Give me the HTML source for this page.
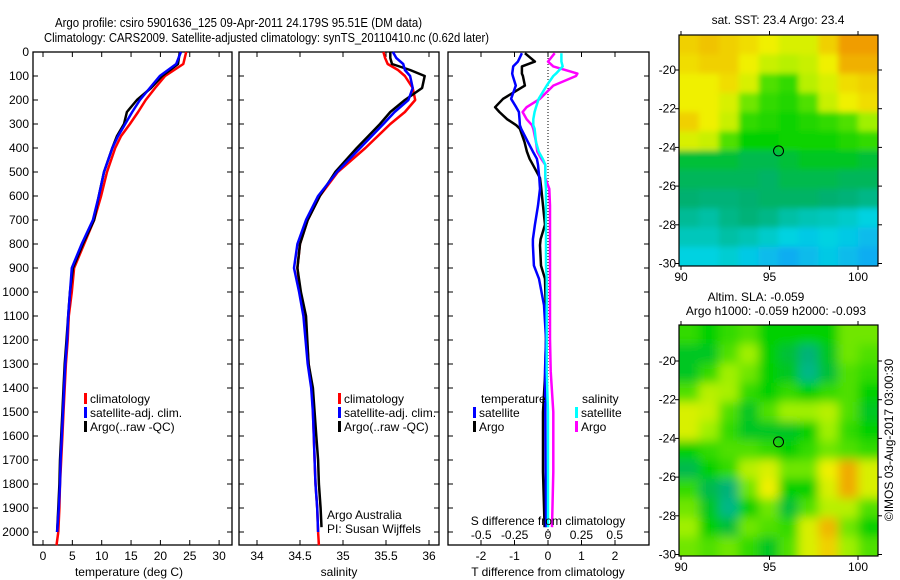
<!DOCTYPE html>
<html><head><meta charset="utf-8">
<style>
html,body{margin:0;padding:0;background:#fff;}
svg{display:block;font-family:"Liberation Sans",sans-serif;}
text{font-size:12px;fill:#000;}
</style></head>
<body>
<svg id="fig" width="900" height="580" viewBox="0 0 900 580" xmlns="http://www.w3.org/2000/svg">
<defs>
<filter id="blur" x="0" y="0" width="1" height="1"><feGaussianBlur stdDeviation="5"/></filter>
<filter id="blurLight" x="0" y="0" width="1" height="1"><feGaussianBlur stdDeviation="3"/></filter>
<clipPath id="clipTop"><rect x="679" y="35" width="199" height="231"/></clipPath>
<clipPath id="clipBot"><rect x="679" y="325" width="199" height="231"/></clipPath>
</defs>
<text x="55" y="27" textLength="367" lengthAdjust="spacingAndGlyphs" style="font-size:13px">Argo profile: csiro 5901636_125 09-Apr-2011 24.179S 95.51E (DM data)</text>
<text x="44" y="42" textLength="445" lengthAdjust="spacingAndGlyphs" style="font-size:13px">Climatology: CARS2009. Satellite-adjusted climatology: synTS_20110410.nc (0.62d later)</text>
<g id="g"></g>
</svg>
<script>
// ===== data =====
const tDepth = [0,50,100,150,200,250,300,350,400,500,600,700,800,900,1000,1100,1200,1300,1400,1500,1600,1700,1800,1900,2000];
const tClim = [24.4,23.9,20.8,19.1,17.5,16.2,14.8,13.3,12.3,10.9,9.9,8.7,7.0,5.3,4.9,4.4,4.2,3.9,3.7,3.5,3.3,3.1,2.9,2.8,2.6];
const tSat  = [23.5,22.7,19.9,18.2,16.5,15.2,14.0,12.8,11.8,10.4,9.5,8.5,6.6,4.9,4.6,4.3,4.1,3.8,3.6,3.4,3.2,3.0,2.9,2.7,2.4];
const tArgo = [23.3,23.0,20.3,18.4,16.0,14.3,13.8,12.6,11.8,10.4,9.5,8.7,6.8,5.1,4.6,4.3,4.0,3.7,3.5,3.3,3.1,2.9,2.8,2.6,2.4];
const sDepth = [0,25,50,75,100,150,200,250,300,400,500,600,700,800,900,1000,1100,1300,1400,1500,1600,1700,1800,1900,2000];
const sClim = [35.47,35.49,35.52,35.64,35.72,35.81,35.84,35.72,35.55,35.26,34.94,34.73,34.59,34.50,34.47,34.50,34.56,34.60,34.64,34.65,34.66,34.67,34.68,34.70,34.71];
const sSat  = [35.58,35.62,35.70,35.72,35.78,35.81,35.76,35.60,35.47,35.20,34.93,34.71,34.57,34.47,34.43,34.49,34.54,34.59,34.63,34.65,34.66,34.67,34.68,34.70,34.71];
const sArgo = [35.55,35.55,35.57,35.78,35.95,35.92,35.72,35.55,35.43,35.16,34.91,34.73,34.59,34.50,34.47,34.51,34.57,34.60,34.65,34.67,34.69,34.71,34.72,34.74,34.75];
const dDepth = [5,40,60,90,100,140,195,230,250,280,305,320,375,415,445,470,525,570,640,720,780,805,890,945,1055,1195,1330,1500,1750,1980];
const dTSat  = [-0.78,-0.9,-1.04,-1.07,-1.05,-0.96,-1.1,-0.95,-0.87,-0.85,-0.84,-0.8,-0.6,-0.45,-0.33,-0.3,-0.26,-0.24,-0.3,-0.39,-0.45,-0.45,-0.42,-0.27,-0.12,-0.06,-0.09,-0.08,-0.07,-0.06];
const dTArgo = [-0.69,-0.39,-0.78,-0.78,-0.75,-0.69,-1.34,-1.58,-1.45,-1.22,-0.95,-0.84,-0.7,-0.63,-0.55,-0.45,-0.24,-0.2,-0.15,-0.09,-0.22,-0.24,-0.21,-0.09,-0.07,-0.06,-0.08,-0.15,-0.15,-0.1];
const dSSat  = [0.1,0.1,0.11,0.06,0.04,-0.01,-0.07,-0.09,-0.1,-0.11,-0.11,-0.1,-0.09,-0.07,-0.04,-0.02,-0.02,-0.015,-0.015,-0.015,-0.015,-0.015,-0.015,-0.01,-0.01,-0.01,-0.01,0,0,0];
const dSArgo = [0.05,0,0.04,0.22,0.21,0.04,-0.06,-0.16,-0.19,-0.16,-0.12,-0.11,-0.09,-0.08,-0.05,-0.02,-0.02,0.01,0.015,0.015,0.015,0.015,0.015,0.015,0.015,0.015,0.02,0.04,0.04,0.03];
const depthTicks = [0,100,200,300,400,500,600,700,800,900,1000,1100,1200,1300,1400,1500,1600,1700,1800,1900,2000];
const tTicks = [0,5,10,15,20,25,30];
const sTicks = [34,34.5,35,35.5,36];
const dTTicks = [-2,-1,0,1,2];
const dSTicks = [-0.5,-0.25,0,0.25,0.5];
const dSTickLabels = ["-0.5","-0.25","0","0.25","0.5"];
const sstGrid = [
[0.8,0.82,0.8,0.78,0.75,0.72,0.72,0.8,0.88,0.88],
[0.78,0.8,0.8,0.75,0.7,0.68,0.7,0.75,0.85,0.85],
[0.75,0.75,0.78,0.72,0.6,0.58,0.68,0.72,0.78,0.8],
[0.75,0.75,0.72,0.62,0.58,0.57,0.6,0.7,0.75,0.78],
[0.8,0.75,0.7,0.58,0.57,0.56,0.57,0.58,0.6,0.65],
[0.72,0.7,0.6,0.55,0.55,0.56,0.56,0.56,0.57,0.58],
[0.5,0.5,0.5,0.48,0.48,0.5,0.52,0.52,0.52,0.5],
[0.47,0.47,0.47,0.47,0.46,0.48,0.48,0.48,0.47,0.47],
[0.45,0.44,0.44,0.45,0.46,0.46,0.46,0.45,0.44,0.42],
[0.4,0.38,0.42,0.44,0.42,0.38,0.36,0.35,0.33,0.3],
[0.35,0.35,0.38,0.36,0.33,0.3,0.28,0.3,0.28,0.25],
[0.3,0.3,0.32,0.28,0.25,0.22,0.25,0.28,0.25,0.22]];
const slaGrid = [
[0.58,0.55,0.58,0.6,0.55,0.55,0.55,0.55,0.62,0.62],
[0.52,0.52,0.6,0.65,0.55,0.5,0.44,0.52,0.62,0.6],
[0.52,0.58,0.65,0.62,0.55,0.52,0.42,0.5,0.6,0.58],
[0.6,0.68,0.66,0.58,0.55,0.58,0.55,0.58,0.6,0.55],
[0.72,0.7,0.6,0.52,0.6,0.65,0.65,0.68,0.6,0.52],
[0.72,0.65,0.58,0.52,0.52,0.52,0.55,0.65,0.58,0.55],
[0.55,0.58,0.6,0.6,0.58,0.55,0.58,0.62,0.6,0.58],
[0.48,0.55,0.58,0.68,0.72,0.62,0.62,0.75,0.86,0.72],
[0.58,0.48,0.44,0.62,0.75,0.55,0.55,0.72,0.86,0.72],
[0.62,0.52,0.42,0.55,0.62,0.5,0.6,0.68,0.68,0.6],
[0.65,0.55,0.5,0.62,0.6,0.58,0.72,0.84,0.62,0.55],
[0.62,0.6,0.62,0.58,0.52,0.6,0.72,0.8,0.65,0.6]];
const latTicks = [-20,-22,-24,-26,-28,-30];
const lonTicks = [90,95,100];
const argoLon = 95.51, argoLat = -24.18;

// ===== helpers =====
const NS="http://www.w3.org/2000/svg";
const G=document.getElementById('g');
function mk(tag,attrs,parent){const e=document.createElementNS(NS,tag);for(const k in attrs)e.setAttribute(k,attrs[k]);(parent||G).appendChild(e);return e;}
function txt(s,x,y,anchor,parent,extra){const e=mk('text',Object.assign({x:x,y:y,'text-anchor':anchor||'start'},extra||{}),parent);e.textContent=s;return e;}
const yD = d => 52 + d*0.24;
const PT=52, PB=545;

function panel(name,x0,x1){
  const r=mk('rect',{x:x0,y:PT,width:x1-x0,height:PB-PT,fill:'none',stroke:'#000','stroke-width':1.3});
  
  
  depthTicks.forEach(d=>{
    const t1=mk('line',{x1:x0,x2:x0+5,y1:yD(d),y2:yD(d),stroke:'#000'});
    
    
    const t2=mk('line',{x1:x1,x2:x1-5,y1:yD(d),y2:yD(d),stroke:'#000'});
    
    
  });
}
function xticks(name,xs,fx,labels,ylab){
  xs.forEach((v,i)=>{
    const X=fx(v);
    const a=mk('line',{x1:X,x2:X,y1:PT,y2:PT+5,stroke:'#000'});
    
    
    const b=mk('line',{x1:X,x2:X,y1:PB,y2:PB-5,stroke:'#000'});
    
    
    if(labels){const t=txt(labels[i],X,ylab,'middle');
      
      }
  });
}
function line(name,xs,ds,fx,color,w){
  const pts=xs.map((v,i)=>fx(v).toFixed(1)+','+yD(ds[i]).toFixed(1)).join(' ');
  const p=mk('polyline',{points:pts,fill:'none',stroke:color,'stroke-width':w||2.5,'stroke-linejoin':'round'});
  
  
}
function legendEntry(name,x,y,color,label){
  const r=mk('rect',{x:x,y:y-10,width:3,height:11,fill:color});
  
  
  const t=txt(label,x+6,y);
  
  
}

// ===== panel 1: temperature =====
const fT = v => 43 + v*5.87;
panel('temperature-panel',33,232);
depthTicks.forEach(d=>{const t=txt(String(d),29,yD(d)+4,'end');
  
  });
xticks('temperature-axis',tTicks,fT,tTicks.map(String),560);
line('temperature-climatology',tClim,tDepth,fT,'#ff0000');
line('temperature-argo',tArgo,tDepth,fT,'#000000');
line('temperature-climatology-tail',[tClim[tClim.length-1],2.3],[2000,2055],fT,'#ff0000');
line('temperature-satellite',tSat,tDepth,fT,'#0000ff');
legendEntry('legend-climatology',84,403,'#ff0000','climatology');
legendEntry('legend-satellite-adj',84,417,'#0000ff','satellite-adj. clim.');
legendEntry('legend-argo',84,431,'#000000','Argo(..raw -QC)');
let xl=txt('temperature (deg C)',129,576,'middle');


// ===== panel 2: salinity =====
const fS = v => 257 + (v-34)*86;
panel('salinity-panel',239,439);
xticks('salinity-axis',sTicks,fS,sTicks.map(String),560);
line('salinity-climatology',sClim,sDepth,fS,'#ff0000');
line('salinity-climatology-tail',[sClim[sClim.length-1],34.72],[2000,2055],fS,'#ff0000');
line('salinity-argo',sArgo.slice(0,-1).concat([34.75]),sDepth.slice(0,-1).concat([1980]),fS,'#000000');
line('salinity-satellite',sSat,sDepth,fS,'#0000ff');
legendEntry('legend-climatology-s',338,403,'#ff0000','climatology');
legendEntry('legend-satellite-adj-s',338,417,'#0000ff','satellite-adj. clim.');
legendEntry('legend-argo-s',338,431,'#000000','Argo(..raw -QC)');
let a1=txt('Argo Australia',327,519);
let a2=txt('PI: Susan Wijffels',327,533);
xl=txt('salinity',339,576,'middle');


// ===== panel 3: differences =====
const fDT = v => 548 + v*33.5;
const fDS = v => 548 + v*133.5;
panel('difference-panel',448,649);
xticks('t-diff-axis',dTTicks,fDT,dTTicks.map(String),560);
const zl=mk('line',{x1:548,x2:548,y1:PT,y2:PB,stroke:'#000','stroke-dasharray':'1,2'});

line('t-diff-argo',dTArgo,dDepth,fDT,'#000000');
line('t-diff-satellite',dTSat,dDepth,fDT,'#0000ff');
line('s-diff-argo',dSArgo,dDepth,fDS,'#ff00ff');
line('s-diff-satellite',dSSat,dDepth,fDS,'#00ffff');
let lt=txt('temperature',481,403);
let ls=txt('salinity',582,403);
legendEntry('legend-t-satellite',473,417,'#0000ff','satellite');
legendEntry('legend-t-argo',473,431,'#000000','Argo');
legendEntry('legend-s-satellite',575,417,'#00ffff','satellite');
legendEntry('legend-s-argo',575,431,'#ff00ff','Argo');
let st=txt('S difference from climatology',548,525,'middle');
dSTicks.forEach((v,i)=>{const t=txt(dSTickLabels[i],fDS(v),539,'middle');
  });
xl=txt('T difference from climatology',548,576,'middle');


// ===== maps =====
const stops=[[0.15,[30,140,255]],[0.3,[0,210,225]],[0.45,[0,176,112]],[0.55,[0,208,0]],[0.65,[160,240,0]],[0.75,[240,240,0]],[0.9,[240,144,0]]];
function cmap(v){
  if(v<=stops[0][0])return 'rgb('+stops[0][1]+')';
  for(let i=1;i<stops.length;i++){if(v<=stops[i][0]){const a=stops[i-1],b=stops[i],f=(v-a[0])/(b[0]-a[0]);
    return 'rgb('+a[1].map((c,k)=>Math.round(c+(b[1][k]-c)*f)).join(',')+')';}}
  return 'rgb('+stops[stops.length-1][1]+')';
}
const fLon = v => 681 + (v-90)*17.7;
function drawMap(name,grid,top,lat20y,filt,clip){
  const fLat = v => lat20y + (-20 - v)*19.35;
  const grp=mk('g',{'clip-path':'url(#'+clip+')'});
  
  
  const inner=mk('g',{filter:'url(#'+filt+')'},grp);
  const rows=grid.length, cols=grid[0].length;
  const cw=199/cols, ch=231/rows;
  const pad=12;
  grid.forEach((row,r)=>row.forEach((v,c)=>{
    let x=679+c*cw, y=top+r*ch, w=cw+0.5, h=ch+0.5;
    if(c==0){x-=pad;w+=pad;} if(c==cols-1)w+=pad; if(r==0){y-=pad;h+=pad;} if(r==rows-1)h+=pad;
    const cell=mk('rect',{x:x,y:y,width:w,height:h,fill:cmap(v)},inner);
    
    
  }));
  const fr=mk('rect',{x:679,y:top,width:199,height:231,fill:'none',stroke:'#000','stroke-width':1.2});
  
  latTicks.forEach(v=>{const Y=fLat(v);
    const a=mk('line',{x1:679,x2:675,y1:Y,y2:Y,stroke:'#000'});
    const b=mk('line',{x1:878,x2:882,y1:Y,y2:Y,stroke:'#000'});
    const t=txt(String(v),676,Y+4,'end');});
  lonTicks.forEach(v=>{const X=fLon(v);
    const a=mk('line',{x1:X,x2:X,y1:top,y2:top-4,stroke:'#000'});
    const b=mk('line',{x1:X,x2:X,y1:top+231,y2:top+235,stroke:'#000'});
    const t=txt(String(v),X,top+246,'middle');});
  const c=mk('circle',{cx:fLon(argoLon),cy:fLat(argoLat),r:5,fill:'none',stroke:'#000','stroke-width':1});
  
}
drawMap('sst-map',sstGrid,35,70,'blurLight','clipTop');
drawMap('sla-map',slaGrid,325,361,'blur','clipBot');
let m1=txt('sat. SST: 23.4 Argo: 23.4',778,24,'middle');
let m2=txt('Altim. SLA: -0.059',756,301,'middle');
let m3=txt('Argo h1000: -0.059 h2000: -0.093',776,315,'middle');
let im=txt('©IMOS 03-Aug-2017 03:00:30',0,0,'middle',null,{transform:'translate(893,440) rotate(-90)'});

</script>
</body></html>
